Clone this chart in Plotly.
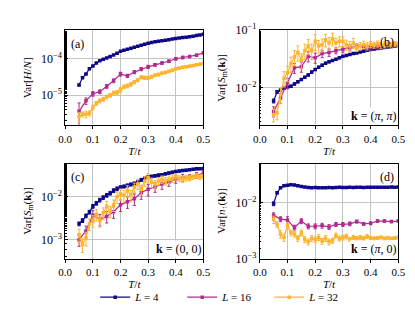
import plotly.graph_objects as go
from plotly.subplots import make_subplots

# ---------------- data ----------------
T_fine = [0.05, 0.0625, 0.075, 0.0875, 0.1, 0.1125, 0.125, 0.1375, 0.15, 0.1625,
          0.175, 0.1875, 0.2, 0.2125, 0.225, 0.2375, 0.25, 0.2625, 0.275, 0.2875,
          0.3, 0.3125, 0.325, 0.3375, 0.35, 0.3625, 0.375, 0.3875, 0.4, 0.4125,
          0.425, 0.4375, 0.45, 0.4625, 0.475, 0.4875, 0.5]
T_coarse = [0.05, 0.075, 0.1, 0.125, 0.15, 0.175, 0.2, 0.225, 0.25, 0.275,
            0.3, 0.325, 0.35, 0.375, 0.4, 0.425, 0.45, 0.475, 0.5]

series_labels = ["<i>L</i> = 4", "<i>L</i> = 16", "<i>L</i> = 32"]

# (a) Var[H/N]
a_L4 = [1.9e-5, 3.0e-5, 3.8e-5, 5.3e-5, 6.3e-5, 7.6e-5, 8.8e-5, 9.7e-5, 1.05e-4, 1.15e-4,
        1.27e-4, 1.42e-4, 1.6e-4, 1.72e-4, 1.83e-4, 1.94e-4, 2.05e-4, 2.2e-4, 2.35e-4, 2.5e-4,
        2.65e-4, 2.78e-4, 2.9e-4, 3.0e-4, 3.1e-4, 3.2e-4, 3.3e-4, 3.45e-4, 3.6e-4, 3.7e-4,
        3.8e-4, 3.9e-4, 4.0e-4, 4.15e-4, 4.3e-4, 4.5e-4, 4.7e-4]
a_L16 = [3.6e-6, 7.0e-6, 1.1e-5, 1.25e-5, 1.75e-5, 2.5e-5, 3.8e-5, 3.4e-5, 4.3e-5, 5.2e-5,
         6.0e-5, 6.8e-5, 7.6e-5, 8.5e-5, 1.0e-4, 1.08e-4, 1.15e-4, 1.25e-4, 1.45e-4]
a_L32 = [2.6e-6, 3.0e-6, 3.0e-6, 3.2e-6, 4.6e-6, 6.0e-6, 7.0e-6, 7.8e-6, 9.0e-6, 1.0e-5,
         1.15e-5, 1.2e-5, 1.4e-5, 1.7e-5, 1.8e-5, 2.0e-5, 2.3e-5, 2.6e-5, 3.1e-5, 3.0e-5,
         3.0e-5, 3.2e-5, 3.5e-5, 3.7e-5, 4.0e-5, 4.2e-5, 4.5e-5, 4.8e-5, 5.3e-5, 5.5e-5,
         5.8e-5, 6.0e-5, 6.2e-5, 6.5e-5, 6.8e-5, 7.1e-5, 7.4e-5]
a_L4_relerr = [0.05, 0.04, 0.04, 0.04, 0.03, 0.03, 0.03, 0.03, 0.03, 0.03,
               0.03, 0.03, 0.03, 0.03, 0.03, 0.03, 0.03, 0.03, 0.03, 0.03,
               0.03, 0.03, 0.03, 0.03, 0.03, 0.03, 0.03, 0.03, 0.03, 0.03,
               0.03, 0.03, 0.03, 0.03, 0.03, 0.03, 0.03]
a_L16_relerr = [0.7, 0.2, 0.15, 0.12, 0.12, 0.12, 0.12, 0.1, 0.1, 0.1,
                0.1, 0.08, 0.08, 0.08, 0.08, 0.08, 0.07, 0.07, 0.07]
a_L32_relerr = [0.3, 0.15, 0.2, 0.15, 0.15, 0.12, 0.12, 0.12, 0.12, 0.12,
                0.12, 0.12, 0.15, 0.12, 0.12, 0.12, 0.1, 0.1, 0.1, 0.1,
                0.1, 0.1, 0.08, 0.08, 0.08, 0.08, 0.08, 0.08, 0.07, 0.07,
                0.07, 0.07, 0.07, 0.07, 0.06, 0.06, 0.06]

# (b) Var[S_m(k)], k=(pi,pi)
b_L4 = [5.8e-3, 8.3e-3, 9.0e-3, 9.7e-3, 1.0e-2, 1.05e-2, 1.15e-2, 1.25e-2, 1.37e-2, 1.5e-2,
        1.65e-2, 1.85e-2, 2.05e-2, 2.25e-2, 2.45e-2, 2.65e-2, 2.8e-2, 2.95e-2, 3.1e-2, 3.3e-2,
        3.5e-2, 3.6e-2, 3.75e-2, 3.9e-2, 4.0e-2, 4.15e-2, 4.3e-2, 4.45e-2, 4.6e-2, 4.7e-2,
        4.8e-2, 4.9e-2, 5.0e-2, 5.1e-2, 5.2e-2, 5.3e-2, 5.4e-2]
b_L16 = [3.8e-3, 6.5e-3, 1.2e-2, 2.2e-2, 2.3e-2, 3.5e-2, 3.3e-2, 3.9e-2, 4.1e-2, 4.4e-2,
         4.6e-2, 5.0e-2, 5.2e-2, 5.2e-2, 5.0e-2, 5.1e-2, 5.3e-2, 5.5e-2, 5.6e-2]
b_L32 = [3.3e-3, 3.6e-3, 7.5e-3, 1.45e-2, 1.8e-2, 2.6e-2, 3.4e-2, 4.1e-2, 3.0e-2, 4.4e-2,
         5.3e-2, 4.4e-2, 6.4e-2, 5.3e-2, 5.6e-2, 6.8e-2, 6.0e-2, 7.1e-2, 6.0e-2, 6.4e-2,
         6.4e-2, 5.6e-2, 5.3e-2, 6.0e-2, 5.0e-2, 5.3e-2, 5.6e-2, 5.3e-2, 5.7e-2, 5.5e-2,
         5.8e-2, 5.4e-2, 5.6e-2, 5.7e-2, 5.5e-2, 5.8e-2, 5.6e-2]
b_L4_relerr = [0.08, 0.06, 0.05, 0.05, 0.05, 0.04, 0.04, 0.04, 0.04, 0.04,
               0.04, 0.04, 0.04, 0.04, 0.04, 0.04, 0.04, 0.04, 0.04, 0.04,
               0.03, 0.03, 0.03, 0.03, 0.03, 0.03, 0.03, 0.03, 0.03, 0.03,
               0.03, 0.03, 0.03, 0.03, 0.03, 0.03, 0.03]
b_L16_relerr = [0.2, 0.2, 0.2, 0.2, 0.2, 0.2, 0.2, 0.15, 0.15, 0.12,
                0.12, 0.1, 0.1, 0.1, 0.1, 0.08, 0.08, 0.08, 0.08]
b_L32_relerr = [0.25, 0.25, 0.3, 0.3, 0.3, 0.3, 0.3, 0.3, 0.3, 0.3,
                0.3, 0.3, 0.3, 0.25, 0.25, 0.25, 0.25, 0.25, 0.2, 0.2,
                0.2, 0.2, 0.2, 0.2, 0.15, 0.15, 0.15, 0.15, 0.12, 0.12,
                0.12, 0.12, 0.12, 0.1, 0.1, 0.1, 0.1]

# (c) Var[S_m(k)], k=(0,0)
c_L4 = [2.35e-3, 2.8e-3, 3.6e-3, 4.4e-3, 6.0e-3, 7.1e-3, 8.4e-3, 9.6e-3, 1.09e-2, 1.22e-2,
        1.4e-2, 1.55e-2, 1.67e-2, 1.75e-2, 1.85e-2, 1.95e-2, 2.05e-2, 2.25e-2, 2.5e-2, 2.7e-2,
        2.9e-2, 3.0e-2, 3.1e-2, 3.2e-2, 3.3e-2, 3.45e-2, 3.6e-2, 3.75e-2, 3.9e-2, 4.0e-2,
        4.1e-2, 4.2e-2, 4.3e-2, 4.4e-2, 4.5e-2, 4.55e-2, 4.6e-2]
c_L16 = [1.0e-3, 1.6e-3, 3.7e-3, 3.0e-3, 3.5e-3, 4.5e-3, 6.5e-3, 7.7e-3, 9.0e-3, 1.25e-2,
         1.5e-2, 1.7e-2, 2.0e-2, 2.2e-2, 2.6e-2, 2.8e-2, 2.9e-2, 3.2e-2, 3.6e-2]
c_L32 = [1.3e-3, 7.7e-4, 1.1e-3, 2.35e-3, 2.8e-3, 3.9e-3, 2.8e-3, 4.25e-3, 6.0e-3, 4.6e-3,
         6.5e-3, 1.0e-2, 1.18e-2, 1.09e-2, 1.4e-2, 1.09e-2, 1.67e-2, 2.0e-2, 1.5e-2, 2.35e-2,
         2.8e-2, 2.2e-2, 2.0e-2, 2.35e-2, 2.55e-2, 2.35e-2, 2.55e-2, 2.7e-2, 2.9e-2, 2.7e-2,
         2.6e-2, 2.75e-2, 2.8e-2, 2.9e-2, 3.1e-2, 2.9e-2, 3.0e-2]
c_L4_relerr = [0.1, 0.1, 0.1, 0.1, 0.1, 0.1, 0.1, 0.1, 0.1, 0.1,
               0.1, 0.1, 0.08, 0.08, 0.08, 0.08, 0.08, 0.08, 0.08, 0.08,
               0.07, 0.07, 0.07, 0.07, 0.06, 0.06, 0.06, 0.06, 0.05, 0.05,
               0.05, 0.05, 0.05, 0.05, 0.05, 0.05, 0.05]
c_L16_relerr = [0.3, 0.3, 0.3, 0.3, 0.3, 0.3, 0.3, 0.3, 0.3, 0.3,
                0.3, 0.25, 0.25, 0.2, 0.2, 0.2, 0.15, 0.15, 0.12]
c_L32_relerr = [0.35, 0.35, 0.35, 0.3, 0.3, 0.3, 0.3, 0.3, 0.3, 0.3,
                0.3, 0.3, 0.3, 0.3, 0.3, 0.3, 0.25, 0.25, 0.25, 0.25,
                0.25, 0.25, 0.2, 0.2, 0.2, 0.2, 0.2, 0.2, 0.15, 0.15,
                0.15, 0.15, 0.15, 0.12, 0.12, 0.12, 0.12]

# (d) Var[n_up(k)], k=(pi,0)
d_L4 = [9.6e-3, 1.5e-2, 1.86e-2, 2.0e-2, 2.05e-2, 2.1e-2, 2.07e-2, 2.0e-2, 1.95e-2, 1.9e-2,
        1.87e-2, 1.85e-2, 1.87e-2, 1.86e-2, 1.85e-2, 1.86e-2, 1.87e-2, 1.86e-2, 1.87e-2, 1.88e-2,
        1.87e-2, 1.87e-2, 1.88e-2, 1.87e-2, 1.88e-2, 1.88e-2, 1.87e-2, 1.88e-2, 1.89e-2, 1.88e-2,
        1.89e-2, 1.89e-2, 1.88e-2, 1.89e-2, 1.9e-2, 1.89e-2, 1.9e-2]
d_L16 = [6.0e-3, 5.1e-3, 4.9e-3, 3.6e-3, 4.7e-3, 3.8e-3, 3.8e-3, 3.9e-3, 3.7e-3, 4.1e-3,
         4.1e-3, 4.2e-3, 4.6e-3, 4.2e-3, 4.3e-3, 4.7e-3, 4.7e-3, 4.6e-3, 4.7e-3]
d_L32 = [5.0e-3, 4.1e-3, 2.75e-3, 2.4e-3, 3.9e-3, 2.9e-3, 2.75e-3, 2.3e-3, 2.9e-3, 2.2e-3,
         2.0e-3, 2.3e-3, 2.2e-3, 2.4e-3, 2.05e-3, 2.3e-3, 2.0e-3, 2.1e-3, 2.6e-3, 2.3e-3,
         2.4e-3, 2.5e-3, 2.2e-3, 2.4e-3, 2.3e-3, 2.4e-3, 2.3e-3, 2.5e-3, 2.35e-3, 2.3e-3,
         2.35e-3, 2.4e-3, 2.3e-3, 2.35e-3, 2.3e-3, 2.35e-3, 2.4e-3]
d_L4_relerr = [0.08, 0.05, 0.03, 0.03, 0.03, 0.03, 0.03, 0.03, 0.03, 0.03,
               0.03, 0.03, 0.03, 0.03, 0.03, 0.03, 0.03, 0.03, 0.03, 0.03,
               0.03, 0.03, 0.03, 0.03, 0.03, 0.03, 0.03, 0.03, 0.03, 0.03,
               0.03, 0.03, 0.03, 0.03, 0.03, 0.03, 0.03]
d_L16_relerr = [0.1, 0.1, 0.15, 0.1, 0.1, 0.1, 0.1, 0.1, 0.1, 0.08,
                0.08, 0.08, 0.06, 0.06, 0.06, 0.05, 0.05, 0.05, 0.05]
d_L32_relerr = [0.15, 0.12, 0.15, 0.15, 0.12, 0.12, 0.12, 0.12, 0.12, 0.12,
                0.12, 0.12, 0.12, 0.12, 0.12, 0.12, 0.12, 0.1, 0.1, 0.1,
                0.1, 0.1, 0.08, 0.08, 0.08, 0.08, 0.08, 0.08, 0.06, 0.06,
                0.06, 0.06, 0.06, 0.06, 0.05, 0.05, 0.05]

x_ticks = [0.0, 0.1, 0.2, 0.3, 0.4, 0.5]
x_ticktext = ["0.0", "0.1", "0.2", "0.3", "0.4", "0.5"]

# ---------------- style ----------------
colors = ["#0d0887", "#b12a90", "#fdb42f"]
FONT = "Liberation Serif"
GRID = "#c4c4c4"

fig = make_subplots(rows=2, cols=2)

panels = [
    (1, 1, [(T_fine, a_L4, a_L4_relerr), (T_coarse, a_L16, a_L16_relerr), (T_fine, a_L32, a_L32_relerr)]),
    (1, 2, [(T_fine, b_L4, b_L4_relerr), (T_coarse, b_L16, b_L16_relerr), (T_fine, b_L32, b_L32_relerr)]),
    (2, 1, [(T_fine, c_L4, c_L4_relerr), (T_coarse, c_L16, c_L16_relerr), (T_fine, c_L32, c_L32_relerr)]),
    (2, 2, [(T_fine, d_L4, d_L4_relerr), (T_coarse, d_L16, d_L16_relerr), (T_fine, d_L32, d_L32_relerr)]),
]

for pi, (r, c, series) in enumerate(panels):
    for si, (xs, ys, rel) in enumerate(series):
        err = [v * e for v, e in zip(ys, rel)]
        fig.add_trace(go.Scatter(
            x=xs, y=ys, mode="lines+markers",
            name=series_labels[si], legendgroup=series_labels[si],
            showlegend=(pi == 0),
            line=dict(color=colors[si], width=1.2),
            marker=dict(symbol="square", size=3.5, color=colors[si]),
            error_y=dict(type="data", array=err, color=colors[si], thickness=1, width=1.5),
        ), row=r, col=c)

# domains (paper coords)
xdom_left = [0.1253, 0.4699]
xdom_right = [0.6104, 0.9559]
ydom_top = [0.6302, 0.9518]
ydom_bot = [0.1801, 0.5016]

yranges = [[-5.83, -3.22], [-2.667, -1.0], [-3.444, -1.222], [-3.0, -1.30]]
ytickvals = [[1e-5, 1e-4], [1e-2, 1e-1], [1e-3, 1e-2], [1e-3, 1e-2]]
yticktext = [["10<sup>−5</sup>", "10<sup>−4</sup>"],
             ["10<sup>−2</sup>", "10<sup>−1</sup>"],
             ["10<sup>−3</sup>", "10<sup>−2</sup>"],
             ["10<sup>−3</sup>", "10<sup>−2</sup>"]]
ytitles = ["Var[<i>H</i>/<i>N</i>]",
           "Var[<i>S</i><sub>m</sub>(<b>k</b>)]",
           "Var[<i>S</i><sub>m</sub>(<b>k</b>)]",
           "Var[<i>n</i><sub>↑</sub>(<b>k</b>)]"]
xdoms = [xdom_left, xdom_right, xdom_left, xdom_right]
ydoms = [ydom_top, ydom_top, ydom_bot, ydom_bot]

for i in range(4):
    sfx = "" if i == 0 else str(i + 1)
    fig.layout["xaxis" + sfx].update(
        domain=xdoms[i], range=[0.0, 0.5], tickvals=x_ticks, ticktext=x_ticktext,
        showgrid=True, gridcolor=GRID, gridwidth=1,
        showline=True, mirror=True, linecolor="black", linewidth=1,
        ticks="outside", ticklen=3, tickcolor="black", zeroline=False,
        title=dict(text="<i>T</i>/<i>t</i>", standoff=0, font=dict(family=FONT, size=11)),
        tickfont=dict(family=FONT, size=11, color="black"),
    )
    fig.layout["yaxis" + sfx].update(
        domain=ydoms[i], type="log", range=yranges[i],
        tickvals=ytickvals[i], ticktext=yticktext[i],
        showgrid=True, gridcolor=GRID, gridwidth=1,
        showline=True, mirror=True, linecolor="black", linewidth=1,
        ticks="inside", ticklen=3, tickcolor="black", zeroline=False,
        minor=dict(ticks="inside", ticklen=1.5, tickcolor="black", showgrid=False),
        title=dict(text=ytitles[i], standoff=7, font=dict(family=FONT, size=11)),
        tickfont=dict(family=FONT, size=12, color="black"),
    )

fig.add_annotation(text="(a)", x=0.03, y=0.95, xref="x domain", yref="y domain",
                   xanchor="left", yanchor="top", showarrow=False, font=dict(family=FONT, size=12, color="black"))
fig.add_annotation(text="(b)", x=0.98, y=0.97, xref="x2 domain", yref="y2 domain",
                   xanchor="right", yanchor="top", showarrow=False, font=dict(family=FONT, size=12, color="black"))
fig.add_annotation(text="(c)", x=0.03, y=0.95, xref="x3 domain", yref="y3 domain",
                   xanchor="left", yanchor="top", showarrow=False, font=dict(family=FONT, size=12, color="black"))
fig.add_annotation(text="(d)", x=0.98, y=0.95, xref="x4 domain", yref="y4 domain",
                   xanchor="right", yanchor="top", showarrow=False, font=dict(family=FONT, size=12, color="black"))
fig.add_annotation(text="<b>k</b> = (<i>π</i>, <i>π</i>)", x=1.0, y=0.01, xref="x2 domain", yref="y2 domain",
                   xanchor="right", yanchor="bottom", showarrow=False, bgcolor="white",
                   font=dict(family=FONT, size=12, color="black"))
fig.add_annotation(text="<b>k</b> = (0, 0)", x=1.0, y=0.01, xref="x3 domain", yref="y3 domain",
                   xanchor="right", yanchor="bottom", showarrow=False, bgcolor="white",
                   font=dict(family=FONT, size=12, color="black"))
fig.add_annotation(text="<b>k</b> = (<i>π</i>, 0)", x=1.0, y=0.01, xref="x4 domain", yref="y4 domain",
                   xanchor="right", yanchor="bottom", showarrow=False, bgcolor="white",
                   font=dict(family=FONT, size=12, color="black"))

fig.update_layout(
    width=415, height=311,
    margin=dict(l=0, r=0, t=0, b=0),
    paper_bgcolor="white", plot_bgcolor="white",
    font=dict(family=FONT, size=11, color="black"),
    legend=dict(orientation="h", x=0.2, y=0.05, xanchor="left", yanchor="middle",
                entrywidth=42, entrywidthmode="pixels", itemwidth=30,
                font=dict(family=FONT, size=11, color="black"),
                bgcolor="rgba(0,0,0,0)"),
)

fig.write_html("out.html")
